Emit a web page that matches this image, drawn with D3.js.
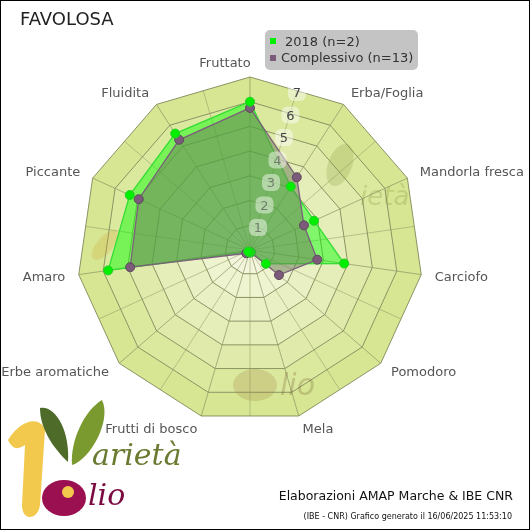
<!DOCTYPE html><html><head><meta charset="utf-8">
<script src="https://cdn.jsdelivr.net/npm/d3@7"></script>
<style>body{margin:0;background:#fff}svg{display:block;font-family:Verdana,"DejaVu Sans",sans-serif}</style></head><body>
<svg id="c" width="530" height="530"></svg>
<script>
const axesLabels=["Fruttato","Erba/Foglia","Mandorla fresca","Carciofo","Pomodoro","Mela","Frutti di bosco","Erbe aromatiche","Amaro","Piccante","Fluidita"];
const series2018=[6.0,3.05,2.85,3.85,0.85,0.1,0.1,0.1,5.8,5.35,5.6];
const seriesAll=[5.75,3.5,2.4,2.75,1.55,0.1,0.1,0.2,4.9,4.95,5.3];
const tickValues=[1,2,3,4,5,6,7];
const svg=d3.select("#c");
const cx=250,cy=250,R=173,maxV=7,n=axesLabels.length;
const r=d3.scaleLinear().domain([0,maxV]).range([0,R]);
const tickY=d3.scaleLinear().domain([1,7]).range([227,92]);
const tickX=d3.scaleLinear().domain([1,7]).range([258,297]);
const ang=i=>i*2*Math.PI/n;
const pt=(i,v)=>[cx+r(v)*Math.sin(ang(i)),cy-r(v)*Math.cos(ang(i))];
svg.append("rect").attr("x",0.5).attr("y",0.5).attr("width",529).attr("height",529).attr("fill","#fff").attr("stroke","#000");
const ringCol=d3.scaleLinear().domain([1,7]).range(["#f3f6dc","#d6e693"]);
const line=d3.line();
for(let k=maxV;k>=1;k--){
  svg.append("path").attr("d",line(d3.range(n).map(i=>pt(i,k)))+"Z")
   .attr("fill",ringCol(k)).attr("stroke","#8a9463").attr("stroke-width",1);
}
const g=svg.append("g").attr("stroke","#8a9463").attr("stroke-width",0.7).attr("fill","none");
for(let i=0;i<n;i++){
  g.append("line").attr("x1",cx).attr("y1",cy).attr("x2",pt(i,maxV)[0]).attr("y2",pt(i,maxV)[1]);
  const m=i+0.5;
  const pm=v=>[cx+r(v)*Math.cos(Math.PI/n)*Math.sin(ang(m)),cy-r(v)*Math.cos(Math.PI/n)*Math.cos(ang(m))];
  g.append("line").attr("x1",cx).attr("y1",cy).attr("x2",pm(maxV)[0]).attr("y2",pm(maxV)[1]).attr("stroke-width",0.5);
}
const wm=svg.append("g").attr("opacity",0.25);
wm.append("ellipse").attr("cx",340).attr("cy",165).attr("rx",12).attr("ry",22).attr("fill","#8a9a40").attr("transform","rotate(20 340 165)");
wm.append("text").attr("x",360).attr("y",205).attr("font-size",26).attr("font-style","italic").attr("fill","#7a8a30").text("ietà");
wm.append("ellipse").attr("cx",255).attr("cy",385).attr("rx",22).attr("ry",16).attr("fill","#a08040");
wm.append("text").attr("x",280).attr("y",395).attr("font-size",30).attr("font-style","italic").attr("fill","#6a5020").text("lio");
wm.append("ellipse").attr("cx",105).attr("cy",245).attr("rx",8).attr("ry",18).attr("fill","#d0a030").attr("transform","rotate(40 105 245)");
function area(data,fill,stroke,fo){
  svg.append("path").attr("d",line(data.map((v,i)=>pt(i,v)))+"Z").attr("fill",fill).attr("fill-opacity",fo).attr("stroke",stroke).attr("stroke-width",1.3);
}
area(series2018,"#00ff00","#33dd33",0.45);
area(seriesAll,"#6e7f5a","#7a607a",0.55);
seriesAll.forEach((v,i)=>{const p=pt(i,v);svg.append("circle").attr("cx",p[0]).attr("cy",p[1]).attr("r",4.5).attr("fill","#7b5a7a").attr("stroke","#5a4a5a");});
series2018.forEach((v,i)=>{const p=pt(i,v);svg.append("circle").attr("cx",p[0]).attr("cy",p[1]).attr("r",4.5).attr("fill","#00ee00").attr("stroke","#22cc22");});
tickValues.forEach(t=>{
  const x=tickX(t),y=tickY(t)+5;
  svg.append("rect").attr("x",x-9).attr("y",y-13).attr("width",18).attr("height",17).attr("rx",6).attr("fill","#fff").attr("opacity",0.45);
  svg.append("text").attr("x",x).attr("y",y).attr("text-anchor","middle").attr("font-size",13).attr("fill","#444").attr("opacity",t<5?0.6:1).text(t);
});
axesLabels.forEach((l,i)=>{
  const p=pt(i,maxV+0.55),s=Math.sin(ang(i));
  svg.append("text").attr("x",i===0?p[0]-25:p[0]).attr("y",p[1]+4).attr("font-size",13).attr("fill","#555")
    .attr("text-anchor",Math.abs(s)<0.2?"middle":(s>0?"start":"end")).text(l);
});
svg.append("text").attr("x",20).attr("y",25).attr("font-size",18).attr("fill","#222").text("FAVOLOSA");
svg.append("rect").attr("x",265).attr("y",30).attr("width",153).attr("height",40).attr("rx",5).attr("fill","#c4c4c4");
svg.append("rect").attr("x",270).attr("y",38).attr("width",6).attr("height",6).attr("fill","#00ee00");
svg.append("text").attr("x",285).attr("y",46).attr("font-size",13).attr("fill","#333").text("2018 (n=2)");
svg.append("rect").attr("x",270).attr("y",55).attr("width",6).attr("height",6).attr("fill","#7b5a7a");
svg.append("text").attr("x",281).attr("y",62).attr("font-size",13).attr("fill","#333").text("Complessivo (n=13)");
svg.append("text").attr("x",513).attr("y",500).attr("text-anchor","end").attr("font-size",12.5).attr("fill","#111").text("Elaborazioni AMAP Marche & IBE CNR");
svg.append("text").attr("x",512).attr("y",519).attr("text-anchor","end").attr("font-size",8).attr("fill","#111").text("(IBE - CNR) Grafico generato il 16/06/2025 11:53:10");
const lg=svg.append("g");
lg.append("path").attr("d","M8,440 C20,420 40,415 45,430 L40,505 C38,520 22,522 22,505 L25,445 C20,448 14,452 8,440Z").attr("fill","#f2c94c");
lg.append("path").attr("d","M40,408 C55,405 70,430 68,462 C55,450 40,430 40,408Z").attr("fill","#4e6b2a");
lg.append("path").attr("d","M102,400 C112,420 90,460 72,465 C70,440 85,410 102,400Z").attr("fill","#7a9a30");
lg.append("text").attr("x",92).attr("y",465).attr("font-size",30).attr("font-style","italic").attr("fill","#6a7a30").attr("font-family","DejaVu Serif").text("arietà");
lg.append("ellipse").attr("cx",64).attr("cy",498).attr("rx",22).attr("ry",18).attr("fill","#9a1050");
lg.append("circle").attr("cx",68).attr("cy",492).attr("r",6).attr("fill","#f2c94c");
lg.append("text").attr("x",88).attr("y",505).attr("font-size",30).attr("font-style","italic").attr("fill","#7a0a40").attr("font-family","DejaVu Serif").text("lio");
</script></body></html>
